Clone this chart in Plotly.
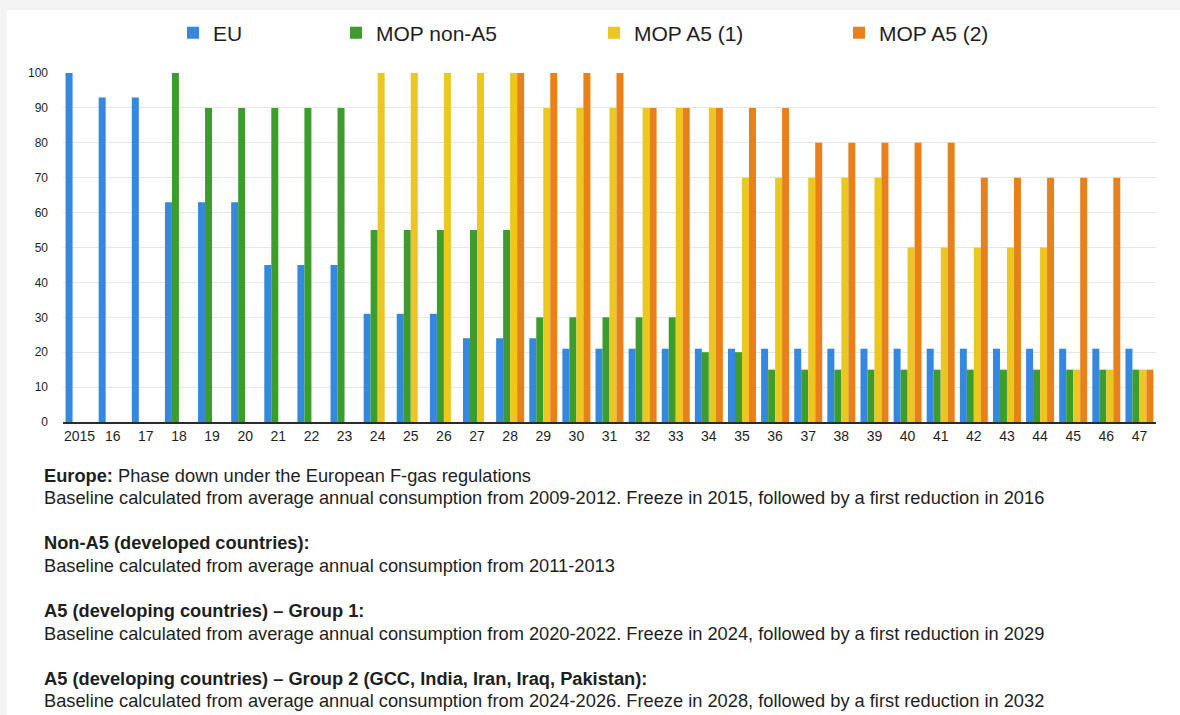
import plotly.graph_objects as go

# Phase-down schedules, % of baseline, by year (2015-2047)
years = ["2015", "16", "17", "18", "19", "20", "21", "22", "23", "24", "25",
         "26", "27", "28", "29", "30", "31", "32", "33", "34", "35", "36",
         "37", "38", "39", "40", "41", "42", "43", "44", "45", "46", "47"]

eu = [100, 93, 93, 63, 63, 63, 45, 45, 45, 31, 31, 31, 24, 24, 24, 21, 21,
      21, 21, 21, 21, 21, 21, 21, 21, 21, 21, 21, 21, 21, 21, 21, 21]

mop_non_a5 = [None, None, None, 100, 90, 90, 90, 90, 90, 55, 55, 55, 55, 55,
              30, 30, 30, 30, 30, 20, 20, 15, 15, 15, 15, 15, 15, 15, 15, 15,
              15, 15, 15]

mop_a5_1 = [None, None, None, None, None, None, None, None, None, 100, 100,
            100, 100, 100, 90, 90, 90, 90, 90, 90, 70, 70, 70, 70, 70, 50, 50,
            50, 50, 50, 15, 15, 15]

mop_a5_2 = [None, None, None, None, None, None, None, None, None, None, None,
            None, None, 100, 100, 100, 100, 90, 90, 90, 90, 90, 80, 80, 80, 80,
            80, 70, 70, 70, 70, 70, 15]

series = [
    ("EU", eu, "#3488dd", "legend"),
    ("MOP non-A5", mop_non_a5, "#3c9d2c", "legend2"),
    ("MOP A5 (1)", mop_a5_1, "#ecc71f", "legend3"),
    ("MOP A5 (2)", mop_a5_2, "#e8811a", "legend4"),
]

notes = [
    ("<b>Europe:</b> Phase down under the European F-gas regulations", 475),
    ("Baseline calculated from average annual consumption from 2009-2012. "
     "Freeze in 2015, followed by a first reduction in 2016", 497),
    ("<b>Non-A5 (developed countries):</b>", 542),
    ("Baseline calculated from average annual consumption from 2011-2013", 565),
    ("<b>A5 (developing countries) – Group 1:</b>", 610),
    ("Baseline calculated from average annual consumption from 2020-2022. "
     "Freeze in 2024, followed by a first reduction in 2029", 633),
    ("<b>A5 (developing countries) – Group 2 (GCC, India, Iran, Iraq, Pakistan):</b>", 678),
    ("Baseline calculated from average annual consumption from 2024-2026. "
     "Freeze in 2028, followed by a first reduction in 2032", 700),
]

W, H = 1180, 715
ML, MR, MT, MB = 63, 24, 73, 293
PW, PH = W - ML - MR, H - MT - MB


def px(x):
    return (x - ML) / PW


def py(y):
    return (H - MB - y) / PH


FONT = "Liberation Sans, Arial, Helvetica, sans-serif"
TXT = "#1e1e1e"

fig = go.Figure()
for name, vals, color, lg in series:
    fig.add_trace(go.Bar(
        x=years, y=vals, name=name, legend=lg, showlegend=True,
        marker=dict(color=color, line=dict(width=0)),
    ))

legend_left = {"legend": 173, "legend2": 336, "legend3": 594, "legend4": 839}
legend_layout = {}
for key, left in legend_left.items():
    legend_layout[key] = dict(
        x=px(left), y=py(33), xanchor="left", yanchor="middle",
        orientation="h", bgcolor="rgba(0,0,0,0)", visible=True,
        font=dict(family=FONT, size=21, color=TXT),
    )

annotations = [
    dict(text=t, x=px(42), y=py(y), xref="paper", yref="paper",
         xanchor="left", yanchor="middle", showarrow=False, align="left",
         font=dict(family=FONT, size=18.25, color=TXT))
    for t, y in notes
]

shapes = [
    # light frame strips along the top and left edges of the page
    dict(type="rect", xref="paper", yref="paper", layer="below",
         x0=px(0), x1=px(W), y0=py(10), y1=py(0),
         fillcolor="#f4f4f4", line=dict(width=0)),
    dict(type="rect", xref="paper", yref="paper", layer="below",
         x0=px(0), x1=px(7), y0=py(H), y1=py(0),
         fillcolor="#f4f4f4", line=dict(width=0)),
]

fig.update_layout(
    width=W, height=H,
    margin=dict(l=ML, r=MR, t=MT, b=MB),
    paper_bgcolor="white", plot_bgcolor="white",
    barmode="group", bargap=0.155, bargroupgap=0,
    showlegend=True,
    font=dict(family=FONT, color=TXT),
    annotations=annotations, shapes=shapes,
    **legend_layout,
)

fig.update_xaxes(
    type="category", showgrid=False, showline=True,
    linecolor="#2b2b2b", linewidth=2,
    tickfont=dict(family=FONT, size=14, color=TXT),
    ticks="", ticklabelstandoff=0,
)
fig.update_yaxes(
    range=[0, 100], tickvals=list(range(0, 101, 10)),
    showgrid=True, gridcolor="#e6e6e6", gridwidth=1, zeroline=False,
    tickfont=dict(family=FONT, size=12, color=TXT),
    ticks="", ticklabelstandoff=14,
)

fig.write_html("out.html")
